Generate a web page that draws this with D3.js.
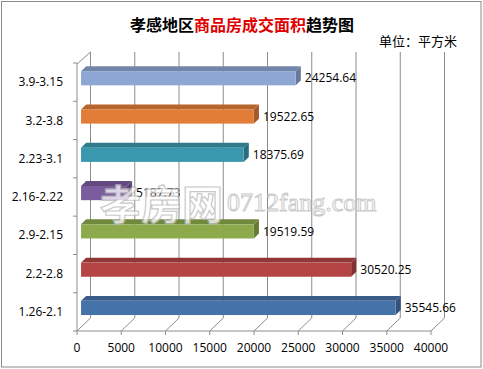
<!DOCTYPE html>
<html><head><meta charset="utf-8">
<script src="https://cdn.jsdelivr.net/npm/d3@7"></script>
<style>html,body{margin:0;padding:0;background:#fff;}svg{display:block;}</style>
</head><body>
<script>
const categories = ["3.9-3.15","3.2-3.8","2.23-3.1","2.16-2.22","2.9-2.15","2.2-2.8","1.26-2.1"];
const values = [24254.64,19522.65,18375.69,5187.73,19519.59,30520.25,35545.66];
const valueLabels = ["24254.64","19522.65","18375.69","5187.73","19519.59","30520.25","35545.66"];
const colors = ["#8EA6D3","#E27D38","#3A98AE","#7B5D9D","#8CAA4B","#B44544","#4672AA"];
const xTicks = [0,5000,10000,15000,20000,25000,30000,35000,40000];
const titleParts = [["孝感地区","#000"],["商品房成交面积","#E00000"],["趋势图","#000"]];
const unitText = "单位：平方米";

const W=483,H=369;
const svg=d3.select("body").append("svg").attr("width",W).attr("height",H);
svg.append("rect").attr("x",1.5).attr("y",1.5).attr("width",W-3.5).attr("height",H-3.5)
  .attr("fill","#fff").attr("stroke","#8a8a8a").attr("stroke-width",1);

const x=d3.scaleLinear().domain([0,40000]).range([77,431]);
const y=d3.scaleBand().domain(categories).range([63,331]);
const DX=13.5, DY=-13;
const grid="#8c8c8c";
const g=svg.append("g");

// back wall gridlines and floor diagonals
xTicks.forEach(t=>{
  const fx=x(t);
  g.append("line").attr("x1",fx+DX).attr("x2",fx+DX).attr("y1",y.range()[0]+DY+2).attr("y2",y.range()[1]+DY)
   .attr("stroke",grid).attr("stroke-width",1);
  g.append("line").attr("x1",fx).attr("y1",331).attr("x2",fx+DX).attr("y2",331+DY).attr("stroke",grid);
  g.append("line").attr("x1",fx).attr("x2",fx).attr("y1",331).attr("y2",335).attr("stroke",grid);
});
// floor front line
g.append("line").attr("x1",x(0)).attr("x2",x(40000)).attr("y1",331).attr("y2",331).attr("stroke",grid);
// left wall
g.append("line").attr("x1",x(0)).attr("x2",x(0)).attr("y1",63).attr("y2",331).attr("stroke",grid);
g.append("line").attr("x1",x(0)).attr("y1",64).attr("x2",x(0)+DX).attr("y2",64+DY+1).attr("stroke",grid);
// category ticks
categories.forEach(c=>{
  g.append("line").attr("x1",x(0)-4).attr("x2",x(0)).attr("y1",y(c)).attr("y2",y(c)).attr("stroke",grid);
});
g.append("line").attr("x1",x(0)-4).attr("x2",x(0)).attr("y1",331).attr("y2",331).attr("stroke",grid);

// bars
const f1=0.3, f2=0.68;
const bh=y.bandwidth()*0.37;
categories.forEach((c,i)=>{
  const ox=DX*f1, oy=DY*f1, bx=DX*(f2-f1), by=DY*(f2-f1);
  const x0=x(0)+ox, x1=x(values[i])+ox;
  const yc=y(c)+y.bandwidth()/2+oy;
  const yt=yc-bh/2, yb=yc+bh/2;
  const col=d3.color(colors[i]);
  // top
  g.append("path").attr("d",`M${x0},${yt}L${x1},${yt}L${x1+bx},${yt+by}L${x0+bx},${yt+by}Z`)
   .attr("fill",col.darker(0.6));
  // side
  g.append("path").attr("d",`M${x1},${yt}L${x1+bx},${yt+by}L${x1+bx},${yb+by}L${x1},${yb}Z`)
   .attr("fill",col.darker(0.9));
  // front
  g.append("rect").attr("x",x0).attr("y",yt).attr("width",x1-x0).attr("height",bh).attr("fill",col);
  // label
  g.append("text").attr("x",x1+bx+4).attr("y",yc).attr("dy","0.35em")
   .attr("font-family","Open Sans").attr("font-size",12).attr("fill","#000").text(valueLabels[i]);
});

// category labels
categories.forEach(c=>{
  g.append("text").attr("x",63).attr("y",y(c)+y.bandwidth()/2).attr("dy","0.35em").attr("text-anchor","end")
   .attr("font-family","Open Sans").attr("font-size",12).attr("fill","#000").text(c);
});
// x tick labels
xTicks.forEach(t=>{
  g.append("text").attr("x",x(t)).attr("y",348).attr("dy","0.35em").attr("text-anchor","middle")
   .attr("font-family","Open Sans").attr("font-size",12).attr("fill","#000").text(t);
});

// title
const title=svg.append("text").attr("x",242).attr("y",31).attr("text-anchor","middle")
  .attr("font-family","Noto Sans CJK SC").attr("font-weight","bold").attr("font-size",16);
titleParts.forEach(p=>title.append("tspan").attr("fill",p[1]).text(p[0]));
svg.append("text").attr("x",457).attr("y",46).attr("text-anchor","end")
  .attr("font-family","Noto Sans CJK SC").attr("font-size",13).attr("fill","#000").text(unitText);

// watermark
const wm=svg.append("g").attr("opacity",0.75);
wm.append("text").attr("x",100).attr("y",220).attr("font-family","Noto Sans CJK SC").attr("font-weight","bold")
  .attr("font-size",41).attr("fill","#fff").attr("stroke","#b8b8b8").attr("stroke-width",1.2).text("孝房网");
wm.append("text").attr("x",227).attr("y",211).attr("font-family","Liberation Serif")
  .attr("font-size",26).attr("fill","#fff").attr("stroke","#b8b8b8").attr("stroke-width",1).text("0712fang.com");
</script>
</body></html>
